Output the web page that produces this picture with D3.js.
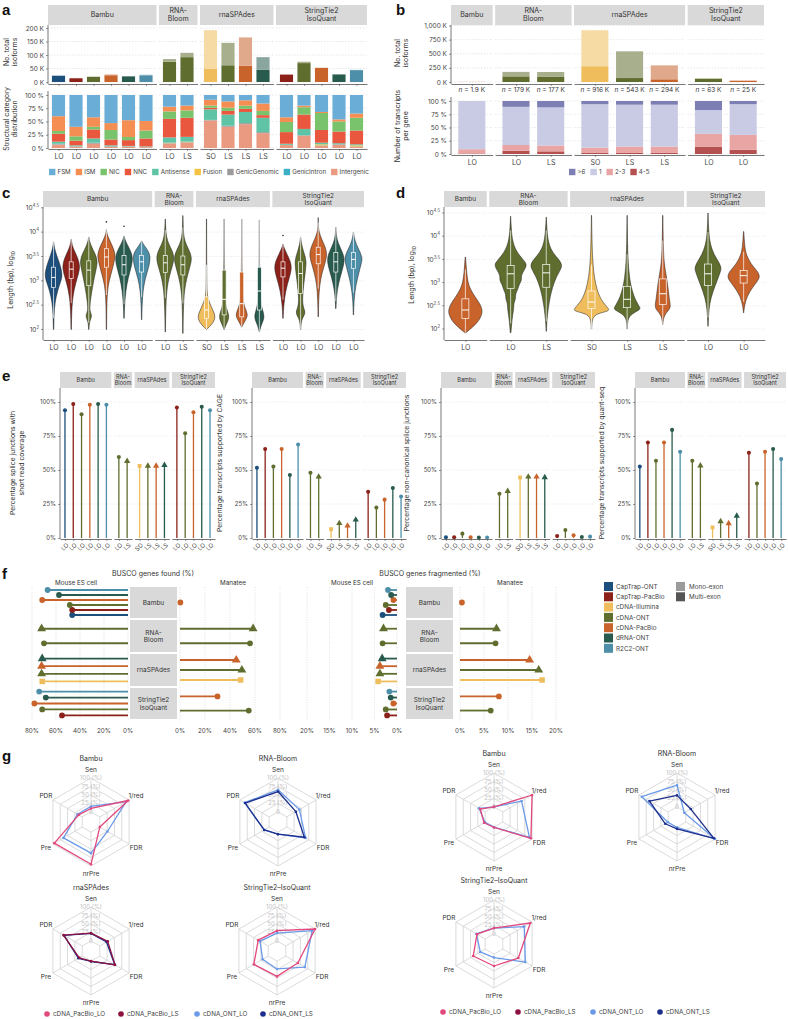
<!DOCTYPE html>
<html><head><meta charset="utf-8"><title>Figure</title>
<script src="https://cdn.jsdelivr.net/npm/d3@7/dist/d3.min.js"></script>
<style>html,body{margin:0;padding:0;background:#fff}svg{display:block}</style>
</head><body>
<svg id="fig" width="788" height="1019" xmlns="http://www.w3.org/2000/svg"></svg>
<script>
// ================= DATA =================
const toolStrips = [["Bambu"],["RNA-","Bloom"],["rnaSPAdes"],["StringTie2","IsoQuant"]];
const sampleNames = ["CapTrap-ONT","CapTrap-PacBio","cDNA-Illumina","cDNA-ONT","cDNA-PacBio","dRNA-ONT","R2C2-ONT"];
const sampleColors = ["#1d4f7c","#8b2119","#efbd5c","#5f6e2e","#c9632c","#285b4e","#4d8fa9"];

// mouse columns (panels a, c, e)
const colTool = [0,0,0,0,0,0,1,1,2,2,2,2,3,3,3,3,3];
const colSample = ["CapTrap-ONT","CapTrap-PacBio","cDNA-ONT","cDNA-PacBio","dRNA-ONT","R2C2-ONT","cDNA-ONT","cDNA-ONT","cDNA-Illumina","cDNA-ONT","cDNA-PacBio","dRNA-ONT","CapTrap-PacBio","cDNA-ONT","cDNA-PacBio","dRNA-ONT","R2C2-ONT"];
const colProtocol = ["LO","LO","LO","LO","LO","LO","LO","LS","SO","LS","LS","LS","LO","LO","LO","LO","LO"];

// panel a : isoform counts (thousands)
const aMultiK = [23,14,19,25,21,25, 75,92, 50,62,60,45, 27,70,52,28,44];
const aMonoK  = [1,1,1,3,1,2, 10,16, 142,83,105,47, 2,5,1,1,1];
const aTicks = [0,50,100,150,200];
// panel a : structural categories (%)
const catNames = ["FSM","ISM","NIC","NNC","Antisense","Fusion","GenicGenomic","GenicIntron","Intergenic"];
const catColors = ["#6aaed8","#f58e52","#78c36c","#e9573f","#5fc3a5","#f4c343","#9b9b9b","#3bb0c6","#ea9a80"];
const catFSM          = [40,60,42,53,48,49, 22,20, 9,12,10,16, 42,20,32,46,35];
const catISM          = [28,18,18,13,32,18, 9,9, 11,12,10,14, 9,3,2,4,8];
const catNIC          = [5,8,5,18,6,15, 14,14, 4,6,6,8, 19,14,32,19,24];
const catNNC          = [15,9,17,11,11,15, 35,36, 3,7,6,5, 22,27,24,22,26];
const catAntisense    = [4,2,8,2,1,1, 10,9, 20,21,21,27, 2,12,3,2,2];
const catFusion       = [0,0,0,0,0,0, 1,1, 0,0,0,0, 0,0,2,0,2];
const catGenicGenomic = [1,0.5,2,1,0.5,0.5, 1,1, 1,2,2,2, 0.5,1,1,1,1];
const catGenicIntron  = [0.5,0,0,0,0,0, 0,0, 0,0,0,0, 0,0,0,0,0];
const catIntergenic   = [6.5,2.5,8,2,2.5,1.5, 8,10, 52,40,45,28, 5.5,23,4,6,2];

// panel b (manatee)
const bTool = [0,1,1,2,2,2,3,3];
const bSample = ["cDNA-PacBio","cDNA-ONT","cDNA-ONT","cDNA-Illumina","cDNA-ONT","cDNA-PacBio","cDNA-ONT","cDNA-PacBio"];
const bProtocol = ["LO","LO","LS","SO","LS","LS","LO","LO"];
const bTotalK = [1.9,179,177,916,543,294,63,25];
const bMultiK = [1.6,100,90,280,70,48,58,23];
const bTicks = [0,250,500,750,1000];
const geneCatNames = [">6","1","2-3","4-5"];
const geneCatColors = ["#7d7eb4","#c9cae3","#e9a4a4","#b4504f"];
const geneGt6 = [0,11,12,6,7,7,17,6];
const gene1   = [91,72,72,82,79,79,45,58];
const gene2to3 = [8,11,11,10,12,12,24,28];
const gene4to5 = [1,6,5,2,2,2,14,8];

// panel c / d : violins, profile = [log10 length, relative half width]
const logTicks = [2,2.5,3,3.5,4,4.5];
const cViolins = [
 [[2.0,0.02],[2.3,0.05],[2.55,0.15],[2.8,0.45],[3.0,0.85],[3.12,1],[3.3,0.8],[3.45,0.5],[3.6,0.2],[3.72,0.06],[3.8,0.01]],
 [[2.0,0.02],[2.4,0.06],[2.7,0.2],[2.95,0.5],[3.15,0.85],[3.3,1],[3.45,0.8],[3.6,0.4],[3.72,0.12],[3.85,0.01]],
 [[2.0,0.02],[2.15,0.06],[2.25,0.3],[2.3,0.32],[2.38,0.12],[2.5,0.12],[2.75,0.3],[3.0,0.55],[3.25,0.85],[3.4,1],[3.55,0.75],[3.7,0.3],[3.82,0.08],[3.9,0.01]],
 [[2.0,0.02],[2.5,0.04],[2.8,0.12],[3.0,0.3],[3.25,0.7],[3.45,0.95],[3.52,1],[3.65,0.85],[3.8,0.45],[3.92,0.15],[4.0,0.03],[4.05,0.01]],
 [[2.23,0.02],[2.5,0.06],[2.8,0.2],[3.05,0.45],[3.3,0.85],[3.46,1],[3.6,0.8],[3.75,0.35],[3.85,0.1],[3.92,0.01]],
 [[2.2,0.02],[2.5,0.05],[2.8,0.15],[3.05,0.4],[3.3,0.85],[3.49,1],[3.6,0.8],[3.7,0.4],[3.78,0.1],[3.82,0.01]],
 [[1.95,0.02],[2.4,0.05],[2.8,0.15],[3.1,0.45],[3.35,0.9],[3.49,1],[3.62,0.8],[3.75,0.4],[3.9,0.12],[4.1,0.04],[4.27,0.01]],
 [[1.92,0.02],[2.4,0.05],[2.8,0.15],[3.1,0.5],[3.35,0.9],[3.47,1],[3.6,0.8],[3.75,0.35],[3.9,0.1],[4.1,0.04],[4.34,0.01]],
 [[2.0,0.02],[2.05,0.3],[2.15,0.8],[2.25,1],[2.35,0.85],[2.5,0.45],[2.65,0.15],[2.77,0.06],[3.0,0.03],[3.5,0.02],[4.27,0.01]],
 [[2.0,0.02],[2.1,0.3],[2.2,0.7],[2.3,0.75],[2.4,0.45],[2.55,0.15],[2.8,0.06],[3.2,0.08],[3.3,0.08],[3.5,0.03],[4.27,0.01]],
 [[2.05,0.02],[2.15,0.4],[2.25,0.85],[2.32,0.9],[2.42,0.6],[2.55,0.25],[2.8,0.1],[3.2,0.06],[3.6,0.03],[4.27,0.01]],
 [[1.95,0.02],[2.1,0.3],[2.2,0.7],[2.3,0.75],[2.42,0.45],[2.6,0.15],[2.9,0.06],[3.3,0.04],[3.8,0.02],[4.25,0.01]],
 [[2.23,0.02],[2.5,0.08],[2.8,0.3],[3.05,0.7],[3.25,1],[3.4,0.85],[3.55,0.45],[3.68,0.12],[3.75,0.01]],
 [[2.0,0.02],[2.2,0.1],[2.3,0.55],[2.38,0.6],[2.48,0.3],[2.65,0.25],[2.9,0.4],[3.15,0.6],[3.35,0.75],[3.45,0.7],[3.6,0.4],[3.75,0.12],[3.9,0.01]],
 [[2.26,0.02],[2.6,0.05],[2.9,0.15],[3.15,0.4],[3.4,0.85],[3.56,1],[3.7,0.8],[3.85,0.4],[4.0,0.1],[4.1,0.02],[4.3,0.005]],
 [[2.43,0.02],[2.7,0.08],[2.95,0.3],[3.2,0.7],[3.4,1],[3.55,0.85],[3.7,0.45],[3.85,0.12],[4.0,0.03],[4.1,0.005]],
 [[2.3,0.02],[2.6,0.06],[2.9,0.25],[3.15,0.6],[3.4,0.95],[3.46,1],[3.6,0.75],[3.75,0.3],[3.9,0.08],[4.0,0.01]]
];
const cBoxes = [[2.86,3.07,3.28],[3.05,3.24,3.39],[2.9,3.22,3.41],[3.28,3.49,3.66],[3.12,3.33,3.52],[3.18,3.39,3.52],
 [3.17,3.37,3.52],[3.12,3.33,3.51],[2.23,2.4,2.67],[2.3,2.62,3.22],[2.26,2.53,3.18],[2.4,2.79,3.28],
 [3.08,3.26,3.39],[2.74,3.15,3.39],[3.35,3.54,3.69],[3.18,3.39,3.58],[3.25,3.44,3.58]];
const cOutliers = [[],[],[],[4.21],[4.12],[],[],[],[],[],[],[],[3.93],[],[],[],[]];

const dViolins = [
 [[1.92,0.03],[2.0,0.3],[2.15,0.75],[2.3,0.95],[2.4,1],[2.55,0.85],[2.7,0.55],[2.85,0.3],[3.0,0.15],[3.2,0.08],[3.4,0.04],[3.55,0.01]],
 [[1.92,0.02],[2.1,0.06],[2.3,0.12],[2.45,0.2],[2.55,0.18],[2.65,0.32],[2.75,0.28],[2.85,0.45],[2.95,0.5],[3.05,0.7],[3.15,0.62],[3.3,0.9],[3.4,1],[3.5,0.75],[3.65,0.4],[3.8,0.2],[3.95,0.1],[4.1,0.05],[4.3,0.02],[4.43,0.005]],
 [[1.95,0.01],[2.13,0.03],[2.3,0.08],[2.5,0.15],[2.7,0.25],[2.9,0.4],[3.1,0.6],[3.3,0.95],[3.39,1],[3.5,0.8],[3.65,0.4],[3.8,0.2],[3.95,0.1],[4.15,0.04],[4.41,0.005]],
 [[2.0,0.01],[2.2,0.03],[2.32,0.2],[2.38,0.9],[2.42,1],[2.5,0.8],[2.65,0.5],[2.85,0.3],[3.1,0.16],[3.4,0.08],[3.8,0.03],[4.45,0.005]],
 [[2.0,0.01],[2.25,0.04],[2.35,0.5],[2.42,0.95],[2.46,0.95],[2.55,0.75],[2.7,0.5],[2.9,0.3],[3.1,0.18],[3.4,0.08],[3.8,0.03],[4.45,0.005]],
 [[2.1,0.01],[2.3,0.15],[2.42,0.9],[2.5,1],[2.6,0.9],[2.8,0.75],[3.0,0.6],[3.2,0.4],[3.4,0.2],[3.7,0.08],[4.45,0.01]],
 [[2.06,0.01],[2.3,0.04],[2.55,0.12],[2.8,0.35],[3.05,0.7],[3.25,0.95],[3.32,1],[3.45,0.8],[3.6,0.45],[3.8,0.2],[4.0,0.08],[4.3,0.02],[4.5,0.005]],
 [[2.35,0.01],[2.5,0.05],[2.7,0.2],[2.9,0.55],[3.05,0.9],[3.14,1],[3.25,0.85],[3.4,0.45],[3.6,0.15],[3.8,0.06],[4.1,0.01]]
];
const dWidth = [1,0.95,0.92,1.05,0.8,0.45,0.78,0.95];
const dBoxes = [[2.23,2.41,2.65],[2.87,3.19,3.37],[2.9,3.21,3.39],[2.44,2.58,2.82],[2.46,2.64,2.92],[2.53,2.76,3.08],[2.94,3.19,3.4],[2.99,3.15,3.26]];

// panel e (%)
const eShortRead    = [94,98.5,91,98,98.5,98, 59.5,56.5, 53,53,53,53.5, 96,77,92.5,96.5,94];
const eCAGE         = [51.7,65.5,52.5,65.5,46.3,68.8, 48,45, 6.5,10.8,9,13.4, 34,22.4,28.2,36.8,30.5];
const eNonCanonical = [0.5,0.5,3.2,0.6,0.4,0.4, 32.5,34.5, 44.5,45,45,44.5, 1.5,5.8,2,0.8,1];
const eQuantSeq     = [52.5,70.2,56.8,70.2,79.5,63.4, 56.8,53.2, 7.8,12.2,10.7,16.3, 62.7,40,63.4,65.4,58];
const ePctTicks = [0,25,50,75,100];

// panel f (BUSCO %), rows listed bottom -> top
const fMouseSamples = [["CapTrap-ONT","CapTrap-PacBio","cDNA-ONT","cDNA-PacBio","dRNA-ONT","R2C2-ONT"],["cDNA-ONT","cDNA-ONT"],["cDNA-Illumina","cDNA-ONT","cDNA-PacBio","dRNA-ONT"],["CapTrap-PacBio","cDNA-ONT","cDNA-PacBio","dRNA-ONT","R2C2-ONT"]];
const fMouseProtocols = [["LO","LO","LO","LO","LO","LO"],["LO","LS"],["SO","LS","LS","LS"],["LO","LO","LO","LO","LO"]];
const fMouseFound = [[46.5,46.5,48.5,71.5,57.5,67],[70,72],[71.5,72,72,71.5],[55,71.5,78,68.5,74]];
const fMouseFrag  = [[3.2,1.8,2.5,0.8,1.3,2.0],[3.2,3.0],[4.2,3.8,3.8,3.3],[2.2,2.5,0.8,1.4,1.7]];
const fManateeSamples = [["cDNA-PacBio"],["cDNA-ONT","cDNA-ONT"],["cDNA-Illumina","cDNA-ONT","cDNA-PacBio"],["cDNA-ONT","cDNA-PacBio"]];
const fManateeProtocols = [["LO"],["LO","LS"],["SO","LS","LS"],["LO","LO"]];
const fManateeFound = [[0.3],[56,58.5],[48.5,49.5,45],[55,30]];
const fManateeFrag  = [[0.4],[7.4,7.6],[17.1,16.4,14.5],[6.4,8.1]];
const fFoundTicks = [0,20,40,60,80];
const fFragTicks = [0,5,10,15,20];
const exonNames = ["Mono-exon","Multi-exon"];
const exonColors = ["#9b9b9b","#555555"];

// panel g (radar, %)
const gAxes = ["Sen","1/red","FDR","nrPre","Pre","PDR"];
const gSeries = ["cDNA_PacBio_LO","cDNA_PacBio_LS","cDNA_ONT_LO","cDNA_ONT_LS"];
const gSeriesColors = ["#e2487d","#8c1040","#6b9ae8","#1d2f8c"];
const gRingValues = [0,25,50,75,100];
const gTitles = ["Bambu","RNA-Bloom","rnaSPAdes","StringTie2\u2013IsoQuant","Bambu","RNA-Bloom","StringTie2\u2013IsoQuant"];
const gBambuL     = [[2,[16,90,26,62,64,16]],[0,[10,97,0,95,95,12]]];
const gRNABloomL  = [[2,[65,43,64,6,17,84]],[3,[60,31,60,6,17,82]]];
const gSPAdesL    = [[3,[22,23,51,1,13,62]],[1,[23,27,52,0,10,64]]];
const gStringTieL = [[2,[23,90,65,23,19,28]],[0,[30,100,41,45,49,34]]];
const gBambuR     = [[2,[0,64,91,0,1,21]],[0,[0,100,96,1,4,17]]];
const gRNABloomR  = [[2,[64,-5,100,1,1,90]],[3,[34,17,96,5,10,64]]];
const gStringTieR = [[2,[17,73,77,10,17,30]],[0,[17,94,53,35,41,28]]];

// ================= HELPERS =================
const FONT = "Inter, 'Liberation Sans', Arial, sans-serif";
const svg = d3.select("#fig").attr("font-family", FONT);
svg.append("rect").attr("width",788).attr("height",1019).attr("fill","#fff");
const sampleColor = s => sampleColors[sampleNames.indexOf(s)];
const lighten = (c,k) => d3.interpolateRgb(c,"#ffffff")(k);
const colWithin = colTool.map((t,j)=> j - colTool.indexOf(t));
const colStart = d3.range(4).map(t=>colTool.indexOf(t));
const bWithin = bTool.map((t,j)=> j - bTool.indexOf(t));
const bStart = d3.range(4).map(t=>bTool.indexOf(t));

function T(g,x,y,s,o={}){
  const t = g.append("text").attr("x",x).attr("y",y).text(s)
    .attr("font-size",o.size||6.5).attr("fill",o.fill||"#333")
    .attr("text-anchor",o.anchor||"start");
  if(o.dy) t.attr("dy",o.dy);
  if(o.weight) t.attr("font-weight",o.weight);
  if(o.rotate!=null) t.attr("transform",`rotate(${o.rotate},${x},${y})`);
  return t;
}
function letter(x,y,s){
  svg.append("text").attr("x",x).attr("y",y).text(s).attr("font-size",15).attr("font-weight","bold")
    .attr("font-family","'Liberation Sans', Arial, sans-serif").attr("fill","#111");
}
function strip(g,x0,x1,y0,y1,lines,size){
  g.append("rect").attr("x",x0).attr("y",y0).attr("width",x1-x0).attr("height",y1-y0).attr("fill","#d9d9d9");
  const cy=(y0+y1)/2, lh=size*1.15;
  lines.forEach((l,i)=>T(g,(x0+x1)/2,cy+(i-(lines.length-1)/2)*lh,l,{size,anchor:"middle",dy:"0.35em",fill:"#333"}));
}
function facets(x0,x1,counts,gap){
  const units = counts.map(n=>n+0.2), w=(x1-x0-gap*(counts.length-1))/d3.sum(units);
  let x=x0;
  return counts.map((n,i)=>{
    const a=x, b=x+units[i]*w; x=b+gap;
    return {x0:a,x1:b,unit:w,scale:d3.scalePoint().domain(d3.range(n)).range([a,b]).padding(0.6)};
  });
}
function styleAxis(ax,size){
  ax.attr("font-family",FONT).attr("font-size",size);
  ax.selectAll(".domain").attr("stroke","#555").attr("stroke-width",0.8);
  ax.selectAll(".tick line").attr("stroke","#555").attr("stroke-width",0.6);
  ax.selectAll(".tick text").attr("fill","#444");
}
function hGrid(g,fac,ys,dash){
  fac.forEach(f=>ys.forEach(y=>g.append("line").attr("x1",f.x0).attr("x2",f.x1).attr("y1",y).attr("y2",y)
    .attr("stroke","#d8d8d8").attr("stroke-width",0.6).attr("stroke-dasharray",dash)));
}
function yAxis(g,x,scale,ticks,fmt,yTop,yBot,size){
  const ax=g.append("g").attr("transform",`translate(${x},0)`)
    .call(d3.axisLeft(scale).tickValues(ticks).tickFormat(fmt).tickSize(2).tickPadding(2));
  ax.select(".domain").remove();
  styleAxis(ax,size);
  g.append("line").attr("x1",x).attr("x2",x).attr("y1",yTop).attr("y2",yBot).attr("stroke","#555").attr("stroke-width",0.8);
  return ax;
}
function xAxes(g,fac,y,labelFor,size){
  return fac.map((f,t)=>{
    const ax=g.append("g").attr("transform",`translate(0,${y})`)
      .call(d3.axisBottom(f.scale).tickFormat(i=>labelFor(t,i)).tickSize(2).tickSizeOuter(0).tickPadding(3));
    styleAxis(ax,size);
    return ax;
  });
}
function logAxis(g,x,scale,yTop,yBot){
  g.append("line").attr("x1",x).attr("x2",x).attr("y1",yTop).attr("y2",yBot).attr("stroke","#555").attr("stroke-width",0.8);
  logTicks.forEach(v=>{
    const y=scale(v);
    g.append("line").attr("x1",x-2).attr("x2",x).attr("y1",y).attr("y2",y).attr("stroke","#555").attr("stroke-width",0.6);
    const t=g.append("text").attr("x",x-4).attr("y",y).attr("dy","0.35em").attr("text-anchor","end").attr("font-size",6.5).attr("fill","#444");
    t.append("tspan").text("10");
    t.append("tspan").text(Number.isInteger(v)?String(v):String(v)).attr("font-size",4.3).attr("dy",-3);
  });
}
function lengthTitle(g,x,y){
  const t=g.append("text").attr("transform",`translate(${x},${y}) rotate(-90)`).attr("text-anchor","middle").attr("font-size",7).attr("fill","#333");
  t.append("tspan").text("Length (bp), log");
  t.append("tspan").text("10").attr("font-size",4.8).attr("dy",2);
}
function rotTitle(g,x,y,lines,size){
  lines.forEach((l,i)=>T(g,x+i*size*1.2,y,l,{size,anchor:"middle",rotate:-90}));
}
const symFor = p => p==="LO"?d3.symbolCircle:(p==="LS"?d3.symbolTriangle:d3.symbolSquare);
const symSize = (p,k) => (p==="LO"?13:(p==="LS"?17:15))*k;

// ================= PANEL a =================
letter(2,15,"a");
const aG = svg.append("g");
const aFac = facets(48,367,[6,2,4,5],2.5);
aFac.forEach((f,i)=>strip(aG,f.x0,f.x1,5,25,toolStrips[i],7));
const aTopY = d3.scaleLinear([0,200],[82,28]);
hGrid(aG,aFac,aTicks.map(aTopY),"1.5,1.5");
yAxis(aG,48,aTopY,aTicks,d=>d+" K",25,84,6.5);
colTool.forEach((t,j)=>{
  const f=aFac[t], cx=f.scale(colWithin[j]), bw=f.unit*0.75, c=sampleColor(colSample[j]);
  aG.append("rect").attr("x",cx-bw/2).attr("width",bw).attr("y",aTopY(aMultiK[j])).attr("height",aTopY(0)-aTopY(aMultiK[j])).attr("fill",c);
  aG.append("rect").attr("x",cx-bw/2).attr("width",bw).attr("y",aTopY(aMultiK[j]+aMonoK[j])).attr("height",aTopY(aMultiK[j])-aTopY(aMultiK[j]+aMonoK[j])).attr("fill",lighten(c,0.45));
});
xAxes(aG,aFac,84,()=>"",6.5);
// bottom stacked
const aBotY = d3.scaleLinear([0,1],[148,95]);
hGrid(aG,aFac,[0,.25,.5,.75,1].map(aBotY),"1.5,1.5");
yAxis(aG,48,aBotY,[0,.25,.5,.75,1],d=>Math.round(d*100)+" %",91,149,6.5);
const catArrays=[catFSM,catISM,catNIC,catNNC,catAntisense,catFusion,catGenicGenomic,catGenicIntron,catIntergenic];
const aRows = colTool.map((t,j)=>{const r={}; catArrays.forEach((arr,k)=>r[k]=arr[j]); return r;});
const aStack = d3.stack().keys([8,7,6,5,4,3,2,1,0]).offset(d3.stackOffsetExpand)(aRows);
aStack.forEach(layer=>{
  layer.forEach((d,j)=>{
    const f=aFac[colTool[j]], cx=f.scale(colWithin[j]), bw=f.unit*0.75;
    if(d[1]-d[0]<=0) return;
    aG.append("rect").attr("x",cx-bw/2).attr("width",bw).attr("y",aBotY(d[1])).attr("height",aBotY(d[0])-aBotY(d[1])).attr("fill",catColors[layer.key]);
  });
});
xAxes(aG,aFac,149,(t,i)=>colProtocol[colStart[t]+i],7);
rotTitle(aG,9,52,["No. total","isoforms"],7);
rotTitle(aG,9,119,["Structural category","distribution"],7);
// category legend
(function(){
  let cx=49; const y=172;
  catNames.forEach((n,i)=>{
    aG.append("rect").attr("x",cx).attr("y",y-3.2).attr("width",6.4).attr("height",6.4).attr("fill",catColors[i]);
    const t=T(aG,cx+8.5,y,n,{size:6.2,dy:"0.35em",fill:"#444"});
    cx+=8.5+t.node().getComputedTextLength()+5;
  });
})();

// ================= PANEL b =================
letter(396,15,"b");
const bG = svg.append("g");
const bFac = facets(451,764,[1,2,3,2],2.5);
bFac.forEach((f,i)=>strip(bG,f.x0,f.x1,5,25,toolStrips[i],7));
const bTopY = d3.scaleLinear([0,1000],[82,25.5]);
hGrid(bG,bFac,bTicks.map(bTopY),"1.5,1.5");
yAxis(bG,451,bTopY,bTicks,d=>d3.format(",")(d)+" K",25,84,6.5);
bTool.forEach((t,j)=>{
  const f=bFac[t], cx=f.scale(bWithin[j]), bw=f.unit*0.78, c=sampleColor(bSample[j]);
  bG.append("rect").attr("x",cx-bw/2).attr("width",bw).attr("y",bTopY(bMultiK[j])).attr("height",bTopY(0)-bTopY(bMultiK[j])).attr("fill",c);
  bG.append("rect").attr("x",cx-bw/2).attr("width",bw).attr("y",bTopY(bTotalK[j])).attr("height",bTopY(bMultiK[j])-bTopY(bTotalK[j])).attr("fill",lighten(c,0.45));
  const nt=bG.append("text").attr("x",cx).attr("y",90).attr("dy","0.35em").attr("text-anchor","middle").attr("font-size",6.5).attr("fill","#333");
  nt.append("tspan").text("n").attr("font-style","italic");
  nt.append("tspan").text(" = "+bTotalK[j]+" K");
});
xAxes(bG,bFac,84,()=>"",6.5);
const bBotY = d3.scaleLinear([0,1],[154,101]);
hGrid(bG,bFac,[0,.25,.5,.75,1].map(bBotY),"1.5,1.5");
yAxis(bG,451,bBotY,[0,.25,.5,.75,1],d=>Math.round(d*100)+" %",97,155,6.5);
const geneArrays=[geneGt6,gene1,gene2to3,gene4to5];
const bRows = bTool.map((t,j)=>{const r={}; geneArrays.forEach((arr,k)=>r[k]=arr[j]); return r;});
d3.stack().keys([3,2,1,0]).offset(d3.stackOffsetExpand)(bRows).forEach(layer=>{
  layer.forEach((d,j)=>{
    const f=bFac[bTool[j]], cx=f.scale(bWithin[j]), bw=f.unit*0.78;
    if(d[1]-d[0]<=0) return;
    bG.append("rect").attr("x",cx-bw/2).attr("width",bw).attr("y",bBotY(d[1])).attr("height",bBotY(d[0])-bBotY(d[1])).attr("fill",geneCatColors[layer.key]);
  });
});
xAxes(bG,bFac,155,(t,i)=>bProtocol[bStart[t]+i],7);
rotTitle(bG,400,53,["No. total","isoforms"],7);
rotTitle(bG,400,126,["Number of transcripts","per gene"],7);
(function(){
  let cx=569; const y=172;
  geneCatNames.forEach((n,i)=>{
    bG.append("rect").attr("x",cx).attr("y",y-3.2).attr("width",6.4).attr("height",6.4).attr("fill",geneCatColors[i]);
    const t=T(bG,cx+8.5,y,n,{size:6.2,dy:"0.35em",fill:"#444"});
    cx+=8.5+t.node().getComputedTextLength()+5;
  });
})();

// ================= PANEL c / d (violins) =================
function drawViolin(g,cx,hw,yS,shape,color,box,boxW){
  const area=d3.area().curve(d3.curveBasis).y(d=>yS(d[0])).x0(d=>cx-d[1]*hw).x1(d=>cx+d[1]*hw);
  g.append("path").attr("d",area(shape)).attr("fill",color).attr("stroke","#1a1a1a").attr("stroke-width",0.5);
  const [q1,m,q3]=box, iqr=q3-q1;
  const lo=Math.max(shape[0][0],q1-1.5*iqr), hi=Math.min(shape[shape.length-1][0],q3+1.5*iqr);
  g.append("line").attr("x1",cx).attr("x2",cx).attr("y1",yS(lo)).attr("y2",yS(q1)).attr("stroke","#fff").attr("stroke-width",0.7);
  g.append("line").attr("x1",cx).attr("x2",cx).attr("y1",yS(q3)).attr("y2",yS(hi)).attr("stroke","#fff").attr("stroke-width",0.7);
  g.append("rect").attr("x",cx-boxW/2).attr("width",boxW).attr("y",yS(q3)).attr("height",yS(q1)-yS(q3)).attr("fill",color).attr("stroke","#fff").attr("stroke-width",0.7);
  g.append("line").attr("x1",cx-boxW/2).attr("x2",cx+boxW/2).attr("y1",yS(m)).attr("y2",yS(m)).attr("stroke","#fff").attr("stroke-width",1);
}
letter(2,198,"c");
const cG = svg.append("g");
const cFac = facets(43,364,[6,2,4,5],2.5);
cFac.forEach((f,i)=>strip(cG,f.x0,f.x1,191,207,toolStrips[i],6.5));
const cY = d3.scaleLinear([2,4.5],[329.5,207.8]);
hGrid(cG,cFac,logTicks.map(cY),"1,1.5");
logAxis(cG,43,cY,207,340);
colTool.forEach((t,j)=>{
  const f=cFac[t], cx=f.scale(colWithin[j]);
  const w = (j>=9&&j<=11)?0.72:(j===13?0.85:1);
  drawViolin(cG,cx,f.unit*0.5*w,cY,cViolins[j],sampleColor(colSample[j]),cBoxes[j],4);
  cOutliers[j].forEach(v=>cG.append("circle").attr("cx",cx).attr("cy",cY(v)).attr("r",0.8).attr("fill","#222"));
});
xAxes(cG,cFac,340,(t,i)=>colProtocol[colStart[t]+i],7);
lengthTitle(cG,13,280);

letter(396,198,"d");
const dG = svg.append("g");
const dFac = facets(444,765,[1,2,3,2],2.5);
dFac.forEach((f,i)=>strip(dG,f.x0,f.x1,191,207,toolStrips[i],6.5));
const dY = d3.scaleLinear([2,4.5],[329,213]);
hGrid(dG,dFac,logTicks.map(dY),"1,1.5");
logAxis(dG,444,dY,207,340);
bTool.forEach((t,j)=>{
  const f=dFac[t], cx=f.scale(bWithin[j]);
  drawViolin(dG,cx,f.unit*0.48*dWidth[j],dY,dViolins[j],sampleColor(bSample[j]),dBoxes[j],7);
});
xAxes(dG,dFac,340,(t,i)=>bProtocol[bStart[t]+i],7);
lengthTitle(dG,414,275);

// ================= PANEL e =================
letter(2,381,"e");
const eCharts = [
  {x0:60,x1:215,vals:eShortRead,title:["Percentage splice junctions with","short read coverage"],tx:15},
  {x0:252,x1:406,vals:eCAGE,title:["Percentage transcripts supported by CAGE"],tx:222},
  {x0:441,x1:595,vals:eNonCanonical,title:["Percentage non-canonical splice junctions"],tx:409},
  {x0:635,x1:786,vals:eQuantSeq,title:["Percentage transcripts supported by quant-seq"],tx:604}
];
const eY = d3.scaleLinear([0,100],[538,402]);
eCharts.forEach(ch=>{
  const g=svg.append("g");
  const fac=facets(ch.x0,ch.x1,[6,2,4,5],2.5);
  fac.forEach((f,i)=>strip(g,f.x0,f.x1,372,388,toolStrips[i],5.6));
  hGrid(g,fac,[25,50,75,100].map(eY),"1,1.5");
  yAxis(g,ch.x0,eY,ePctTicks,d=>d+"%",388,539,6);
  colTool.forEach((t,j)=>{
    const f=fac[t], cx=f.scale(colWithin[j]), c=sampleColor(colSample[j]), v=ch.vals[j];
    g.append("line").attr("x1",cx).attr("x2",cx).attr("y1",eY(0)).attr("y2",eY(v)).attr("stroke",c).attr("stroke-width",1.3);
    g.append("path").attr("transform",`translate(${cx},${eY(v)})`).attr("d",d3.symbol(symFor(colProtocol[j]),symSize(colProtocol[j],1))()).attr("fill",c);
  });
  const axs=xAxes(g,fac,539,(t,i)=>colProtocol[colStart[t]+i],6);
  axs.forEach(ax=>ax.selectAll(".tick text").attr("x",0).attr("y",0).attr("dy","0.35em").attr("text-anchor","end").attr("transform","translate(2,5) rotate(-45)"));
  ch.title.forEach((l,i)=>T(g,ch.tx+i*9,463,l,{size:6.8,anchor:"middle",rotate:-90}));
});

// ================= PANEL f =================
letter(2,579,"f");
const fRowsY=[[587,618],[620,652],[654,686],[688,719]];
function busco(o){
  const g=svg.append("g");
  T(g,o.titleX,574,o.title,{size:7,anchor:"middle",dy:"0.35em"});
  T(g,o.mouseX,583,"Mouse ES cell",{size:6.3,anchor:"middle",dy:"0.35em"});
  T(g,o.manX,583,"Manatee",{size:6.3,anchor:"middle",dy:"0.35em"});
  o.ticks.forEach(t=>{
    [o.left,o.right].forEach(sc=>{
      g.append("line").attr("x1",sc(t)).attr("x2",sc(t)).attr("y1",587).attr("y2",721).attr("stroke","#cdcdcd").attr("stroke-width",0.6).attr("stroke-dasharray","1,1.5");
      T(g,sc(t),731,t+"%",{size:6.3,anchor:"middle",dy:"0.35em",fill:"#444"});
    });
  });
  fRowsY.forEach((ry,k)=>{
    strip(g,o.sx0,o.sx1,ry[0],ry[1],toolStrips[k],6.5);
    [[o.left,fMouseSamples[k],fMouseProtocols[k],o.mouseVals[k]],[o.right,fManateeSamples[k],fManateeProtocols[k],o.manVals[k]]].forEach(([sc,ss,ps,vs])=>{
      const yS=d3.scalePoint().domain(d3.range(ss.length)).range([ry[1],ry[0]]).padding(0.6);
      ss.forEach((s,i)=>{
        const y=yS(i), c=sampleColor(s);
        g.append("line").attr("x1",sc(0)).attr("x2",sc(vs[i])).attr("y1",y).attr("y2",y).attr("stroke",c).attr("stroke-width",1.8);
        g.append("path").attr("transform",`translate(${sc(vs[i])},${y})`).attr("d",d3.symbol(symFor(ps[i]),symSize(ps[i],2))()).attr("fill",c);
      });
    });
  });
}
busco({title:"BUSCO genes found (%)",titleX:153,mouseX:76,manX:233,sx0:130,sx1:177,
  left:d3.scaleLinear([0,80],[128,32]),right:d3.scaleLinear([0,80],[180,280]),ticks:fFoundTicks,
  mouseVals:fMouseFound,manVals:fManateeFound});
busco({title:"BUSCO genes fragmented (%)",titleX:430,mouseX:352,manX:510,sx0:406,sx1:453,
  left:d3.scaleLinear([0,20],[397,307]),right:d3.scaleLinear([0,20],[460,556]),ticks:fFragTicks,
  mouseVals:fMouseFrag,manVals:fManateeFrag});
(function(){
  const g=svg.append("g");
  sampleNames.forEach((n,i)=>{
    const y=586.5+i*10.3;
    g.append("rect").attr("x",604).attr("y",y-4.5).attr("width",9).attr("height",9).attr("fill",sampleColors[i]);
    T(g,616,y,n,{size:6.3,dy:"0.35em",fill:"#444"});
  });
  exonNames.forEach((n,i)=>{
    const y=586.5+i*10.3;
    g.append("rect").attr("x",676).attr("y",y-4.5).attr("width",9).attr("height",9).attr("fill",exonColors[i]);
    T(g,689,y,n,{size:6.3,dy:"0.35em",fill:"#444"});
  });
})();

// ================= PANEL g =================
letter(2,761,"g");
function radar(cx,cy,title,entries){
  const g=svg.append("g");
  const R=44, rs=d3.scaleLinear([-30,100],[0,R]);
  const ang=i=>-Math.PI/2+i*Math.PI/3;
  const pt=(i,v)=>[cx+rs(v)*Math.cos(ang(i)),cy+rs(v)*Math.sin(ang(i))];
  gRingValues.forEach(v=>g.append("polygon").attr("points",d3.range(6).map(i=>pt(i,v).join(",")).join(" "))
    .attr("fill","none").attr("stroke","#d2d2d2").attr("stroke-width",0.8));
  d3.range(6).forEach(i=>{const a=pt(i,0),b=pt(i,100);
    g.append("line").attr("x1",a[0]).attr("y1",a[1]).attr("x2",b[0]).attr("y2",b[1]).attr("stroke","#d2d2d2").attr("stroke-width",0.8);});
  gRingValues.forEach(v=>T(g,cx,cy-rs(v),v===0?"0":v+" (%)",{size:6,anchor:"middle",dy:"0.35em",fill:"#c2c2c2"}));
  gAxes.forEach((a,i)=>T(g,cx+52*Math.cos(ang(i)),cy+52*Math.sin(ang(i)),a,{size:6.5,anchor:"middle",dy:"0.35em"}));
  T(g,cx,cy-63,title,{size:7,anchor:"middle",dy:"0.35em"});
  entries.forEach(([si,vals])=>{
    const pts=vals.map((v,i)=>pt(i,v));
    g.append("polygon").attr("points",pts.map(p=>p.join(",")).join(" ")).attr("fill","none").attr("stroke",gSeriesColors[si]).attr("stroke-width",1.3).attr("stroke-linejoin","round");
    pts.forEach(p=>g.append("circle").attr("cx",p[0]).attr("cy",p[1]).attr("r",1.3).attr("fill",gSeriesColors[si]));
  });
}
radar(91,822,gTitles[0],gBambuL);
radar(278,822,gTitles[1],gRNABloomL);
radar(91,951,gTitles[2],gSPAdesL);
radar(277,951,gTitles[3],gStringTieL);
radar(494,817,gTitles[4],gBambuR);
radar(677,817,gTitles[5],gRNABloomR);
radar(494,944,gTitles[6],gStringTieR);
function gLegend(xs,y){
  const g=svg.append("g");
  gSeries.forEach((n,i)=>{
    g.append("circle").attr("cx",xs[i]).attr("cy",y).attr("r",2.8).attr("fill",gSeriesColors[i]);
    T(g,xs[i]+6,y,n,{size:6.3,dy:"0.35em",fill:"#444"});
  });
}
gLegend([47,121,197,263],1014);
gLegend([443,518,593,660],1012);
</script></body></html>
